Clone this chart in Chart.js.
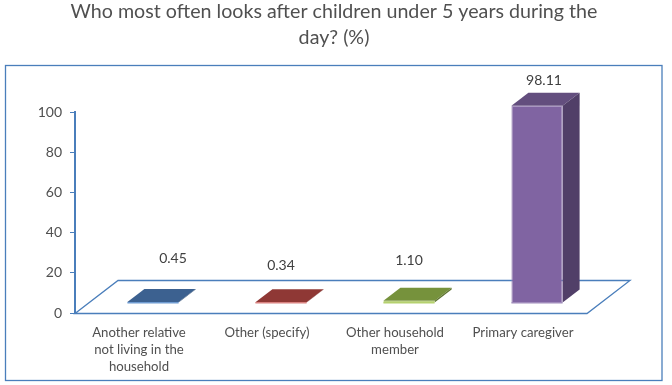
<!DOCTYPE html>
<html>
<head>
<meta charset="utf-8">
<style>
    html, body { margin: 0; padding: 0; background: #fff; }
    #wrap { width: 672px; height: 385px; }
</style>
<script src="https://cdn.jsdelivr.net/npm/chart.js@4/dist/chart.umd.min.js"></script>
</head>
<body>
<div id="wrap"><canvas id="chart" width="672" height="385"></canvas></div>
<script>
var titleLines = ["Who most often looks after children under 5 years during the", "day? (%)"];
var categories = [
    ["Another relative", "not living in the", "household"],
    "Other (specify)",
    ["Other household", "member"],
    "Primary caregiver"
];
var values = [0.45, 0.34, 1.10, 98.11];
var valueLabels = ["0.45", "0.34", "1.10", "98.11"];
var yTicks = [0, 20, 40, 60, 80, 100];

var frontColors = ["#4f81bd", "#c0504d", "#9bbb59", "#8064a2"];
var edgeColors = ["#6f9bd1", "#d98280", "#b5d16f", "#a08bbb"];
var topColors = ["#3c6190", "#8f3835", "#76923c", "#634e7e"];
var sideColors = ["#2f4d73", "#732d2b", "#5f7530", "#513f68"];

var axisColor = "#4a7ebb";
var textColor = "#505050";
var fontName = "Lato, 'Open Sans', sans-serif";

// floor depth, bar offset on the floor and bar depth
var floorDepth = { x: 43, y: 33 };
var barShift = { x: 14, y: 10 };
var barDepth = { x: 17, y: 13 };
// the labels were moved by hand in the original, so each has its own nudge
var labelNudge = [
    { x: 20, y: -44 },
    { x: 0, y: -37 },
    { x: 0, y: -40 },
    { x: 7, y: -25 }
];

var box3d = {
    id: "box3d",
    beforeDraw: function (chart) {
        var ctx = chart.ctx;
        var a = chart.chartArea;
        ctx.save();
        ctx.strokeStyle = axisColor;
        ctx.lineWidth = 1.3;
        // outer frame
        ctx.strokeRect(5.5, 65.5, 656.5, 315);
        // floor
        ctx.beginPath();
        ctx.moveTo(a.left, a.bottom + 0.5);
        ctx.lineTo(a.left + floorDepth.x, a.bottom - floorDepth.y + 0.5);
        ctx.lineTo(a.right + floorDepth.x, a.bottom - floorDepth.y + 0.5);
        ctx.lineTo(a.right, a.bottom + 0.5);
        ctx.closePath();
        ctx.stroke();
        ctx.restore();
    },
    beforeDatasetDraw: function (chart, args) {
        var ctx = chart.ctx;
        ctx.save();
        ctx.translate(barShift.x, -barShift.y);
        args.meta.data.forEach(function (bar, i) {
            var left = bar.x - bar.width / 2;
            var right = bar.x + bar.width / 2;
            // top face
            ctx.fillStyle = topColors[i];
            ctx.beginPath();
            ctx.moveTo(left, bar.y);
            ctx.lineTo(left + barDepth.x, bar.y - barDepth.y);
            ctx.lineTo(right + barDepth.x, bar.y - barDepth.y);
            ctx.lineTo(right, bar.y);
            ctx.closePath();
            ctx.fill();
            // side face
            ctx.fillStyle = sideColors[i];
            ctx.beginPath();
            ctx.moveTo(right, bar.y);
            ctx.lineTo(right + barDepth.x, bar.y - barDepth.y);
            ctx.lineTo(right + barDepth.x, bar.base - barDepth.y);
            ctx.lineTo(right, bar.base);
            ctx.closePath();
            ctx.fill();
        });
    },
    afterDatasetDraw: function (chart, args) {
        var ctx = chart.ctx;
        args.meta.data.forEach(function (bar, i) {
            ctx.fillStyle = edgeColors[i];
            ctx.fillRect(bar.x - bar.width / 2, bar.base - 0.5, bar.width, 1.5);
        });
        ctx.restore();
    },
    afterDatasetsDraw: function (chart) {
        var ctx = chart.ctx;
        var bars = chart.getDatasetMeta(0).data;
        ctx.save();
        ctx.font = "14px " + fontName;
        ctx.fillStyle = "#404040";
        ctx.textAlign = "center";
        ctx.textBaseline = "middle";
        bars.forEach(function (bar, i) {
            ctx.fillText(valueLabels[i], bar.x + barShift.x + labelNudge[i].x, bar.y - barShift.y + labelNudge[i].y);
        });
        ctx.restore();
    }
};

var chart = new Chart(document.getElementById("chart"), {
    type: "bar",
    data: {
        labels: categories,
        datasets: [{
            data: values,
            backgroundColor: frontColors,
            borderColor: edgeColors,
            borderWidth: 1,
            barPercentage: 0.4,
            categoryPercentage: 1
        }]
    },
    plugins: [box3d],
    options: {
        responsive: false,
        animation: false,
        layout: { padding: { left: 15, right: 19, top: -1, bottom: 0 } },
        plugins: {
            legend: { display: false },
            tooltip: { enabled: false },
            title: {
                display: true,
                text: titleLines,
                color: textColor,
                fullSize: true,
                font: { family: fontName, size: 19.66, weight: "normal", lineHeight: "26px" },
                padding: { top: 0, bottom: 61 }
            }
        },
        scales: {
            x: {
                border: { display: false },
                grid: { display: false },
                afterFit: function (scale) { scale.height = 72; },
                ticks: {
                    color: textColor,
                    font: { family: fontName, size: 13.2, lineHeight: "17px" },
                    padding: 3,
                    maxRotation: 0,
                    autoSkip: false
                }
            },
            y: {
                min: 0,
                max: 100,
                border: { display: true, color: axisColor, width: 2 },
                grid: { drawOnChartArea: false, drawTicks: true, tickLength: 5, color: axisColor },
                afterFit: function (scale) { scale.width = 60; },
                afterBuildTicks: function (scale) {
                    scale.ticks = yTicks.map(function (v) { return { value: v }; });
                },
                ticks: {
                    color: textColor,
                    font: { family: fontName, size: 14 },
                    padding: 8
                }
            },
            // empty axis, keeps the floor's overhang free while the title stays centred on the page
            spacer: {
                position: "right",
                min: 0,
                max: 100,
                border: { display: false },
                grid: { display: false },
                ticks: { display: false },
                afterFit: function (scale) { scale.width = 66; }
            }
        }
    }
});
</script>
</body>
</html>
